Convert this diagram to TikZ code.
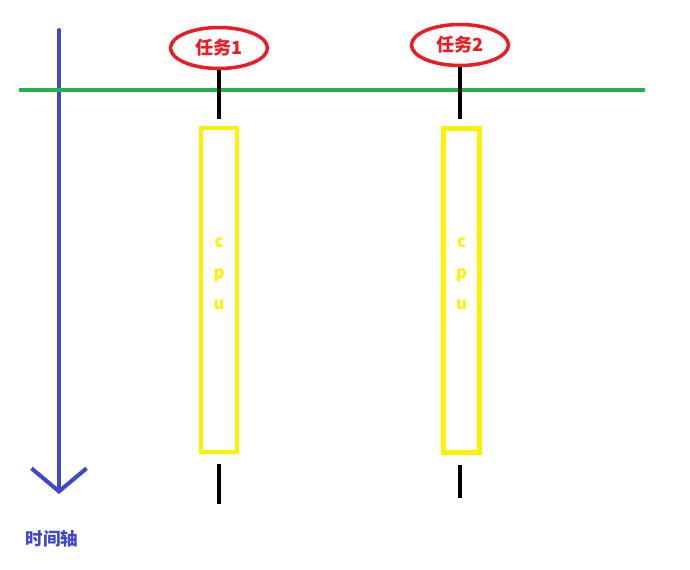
\documentclass[tikz,border=0pt]{standalone}
\usepackage{fontspec}
\setmainfont{Noto Sans CJK SC}
\usetikzlibrary{positioning}
\usetikzlibrary{shapes,arrows}
\usetikzlibrary{arrows.meta}

\definecolor{axisblue}{RGB}{63,72,204}
\definecolor{linegreen}{RGB}{34,177,76}
\definecolor{taskred}{RGB}{237,28,36}
\definecolor{cpuyellow}{RGB}{255,242,0}

\begin{document}
\begin{tikzpicture}[x=0.02cm, y=-0.02cm,
	task/.style={ellipse, draw=taskred, line width=2pt, text=taskred, font=\bfseries\fontsize{10.3}{12}\selectfont, minimum width=1.94cm, minimum height=0.82cm, inner sep=0pt},
	cpu/.style={draw=cpuyellow, line width=2.8pt, minimum width=0.72cm, minimum height=6.48cm, inner sep=0pt},
	cpu_text/.style={text=cpuyellow, align=center, font=\bfseries\fontsize{9.5}{17.6}\selectfont},
	wire/.style={draw, line width=2.3pt}]

	\useasboundingbox (0,0) rectangle (690,569);

	% time axis
	\coordinate (t_top) at (59,30);
	\coordinate (t_end) at (59,494);
	\path[draw, axisblue, line width=2.3pt, line cap=round, -{Straight Barb[length=0.46cm, width=1.1cm, line width=2.3pt]}] (t_top) -- (t_end);
	\node (time_label) [text=axisblue, font=\bfseries\fontsize{10}{12}\selectfont] at (52,539) {时间轴};

	% start line
	\coordinate (g_left) at (19,90);
	\coordinate (g_right) at (645,90);
	\path[draw, linegreen, line width=2.3pt] (g_left) -- (g_right);

	\node (task_1) [task] at (219,48) {任务1};
	\node (task_2) [task] at (460,45) {任务2};

	\node (cpu_1) [cpu] at (219,290) {};
	\node (cpu_2) [cpu] at (461.5,290.5) {};
	\node (cpu_1_text) [cpu_text] at (219,274) {c\\p\\u};
	\node (cpu_2_text) [cpu_text] at (461.5,274) {c\\p\\u};

	\coordinate (end_1) at (219,504);
	\coordinate (end_2) at (460,498);

	\path[wire, shorten >=0.14cm] (task_1.south) -- (task_1.south |- cpu_1.north);
	\path[wire, shorten <=0.2cm] (cpu_1.south -| end_1) -- (end_1);
	\path[wire, shorten >=0.14cm] (task_2.south) -- (task_2.south |- cpu_2.north);
	\path[wire, shorten <=0.2cm] (cpu_2.south -| end_2) -- (end_2);

\end{tikzpicture}
\end{document}
